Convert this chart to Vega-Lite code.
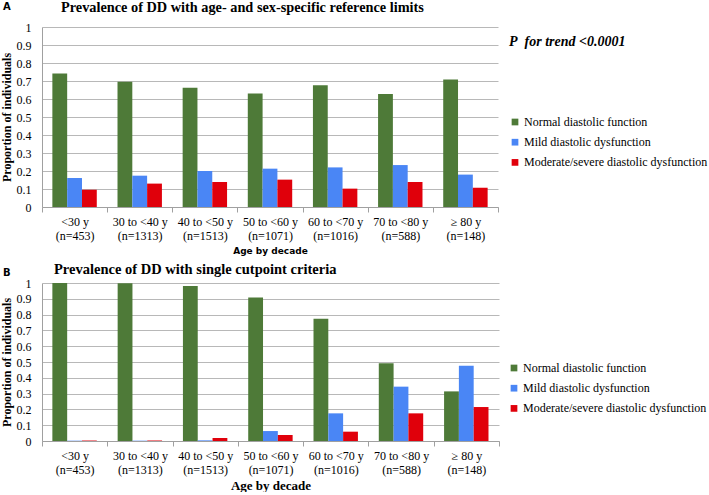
{
  "$schema": "https://vega.github.io/schema/vega-lite/v6.json",
  "padding": {"left": 0, "top": 0, "right": 0, "bottom": 0},
  "background": "white",
  "datasets": {
    "A": [
      {"age": "<30 y|(n=453)", "cat": "Normal diastolic function", "value": 0.741},
      {"age": "<30 y|(n=453)", "cat": "Mild diastolic dysfunction", "value": 0.161},
      {"age": "<30 y|(n=453)", "cat": "Moderate/severe diastolic dysfunction", "value": 0.096},
      {"age": "30 to <40 y|(n=1313)", "cat": "Normal diastolic function", "value": 0.696},
      {"age": "30 to <40 y|(n=1313)", "cat": "Mild diastolic dysfunction", "value": 0.174},
      {"age": "30 to <40 y|(n=1313)", "cat": "Moderate/severe diastolic dysfunction", "value": 0.13},
      {"age": "40 to <50 y|(n=1513)", "cat": "Normal diastolic function", "value": 0.663},
      {"age": "40 to <50 y|(n=1513)", "cat": "Mild diastolic dysfunction", "value": 0.2},
      {"age": "40 to <50 y|(n=1513)", "cat": "Moderate/severe diastolic dysfunction", "value": 0.139},
      {"age": "50 to <60 y|(n=1071)", "cat": "Normal diastolic function", "value": 0.63},
      {"age": "50 to <60 y|(n=1071)", "cat": "Mild diastolic dysfunction", "value": 0.213},
      {"age": "50 to <60 y|(n=1071)", "cat": "Moderate/severe diastolic dysfunction", "value": 0.152},
      {"age": "60 to <70 y|(n=1016)", "cat": "Normal diastolic function", "value": 0.676},
      {"age": "60 to <70 y|(n=1016)", "cat": "Mild diastolic dysfunction", "value": 0.22},
      {"age": "60 to <70 y|(n=1016)", "cat": "Moderate/severe diastolic dysfunction", "value": 0.102},
      {"age": "70 to <80 y|(n=588)", "cat": "Normal diastolic function", "value": 0.628},
      {"age": "70 to <80 y|(n=588)", "cat": "Mild diastolic dysfunction", "value": 0.233},
      {"age": "70 to <80 y|(n=588)", "cat": "Moderate/severe diastolic dysfunction", "value": 0.139},
      {"age": "≥ 80 y|(n=148)", "cat": "Normal diastolic function", "value": 0.709},
      {"age": "≥ 80 y|(n=148)", "cat": "Mild diastolic dysfunction", "value": 0.18},
      {"age": "≥ 80 y|(n=148)", "cat": "Moderate/severe diastolic dysfunction", "value": 0.107}
    ],
    "B": [
      {"age": "<30 y|(n=453)", "cat": "Normal diastolic function", "value": 1.0},
      {"age": "<30 y|(n=453)", "cat": "Mild diastolic dysfunction", "value": 0.002},
      {"age": "<30 y|(n=453)", "cat": "Moderate/severe diastolic dysfunction", "value": 0.003},
      {"age": "30 to <40 y|(n=1313)", "cat": "Normal diastolic function", "value": 0.998},
      {"age": "30 to <40 y|(n=1313)", "cat": "Mild diastolic dysfunction", "value": 0.002},
      {"age": "30 to <40 y|(n=1313)", "cat": "Moderate/severe diastolic dysfunction", "value": 0.003},
      {"age": "40 to <50 y|(n=1513)", "cat": "Normal diastolic function", "value": 0.981},
      {"age": "40 to <50 y|(n=1513)", "cat": "Mild diastolic dysfunction", "value": 0.004},
      {"age": "40 to <50 y|(n=1513)", "cat": "Moderate/severe diastolic dysfunction", "value": 0.019},
      {"age": "50 to <60 y|(n=1071)", "cat": "Normal diastolic function", "value": 0.909},
      {"age": "50 to <60 y|(n=1071)", "cat": "Mild diastolic dysfunction", "value": 0.063},
      {"age": "50 to <60 y|(n=1071)", "cat": "Moderate/severe diastolic dysfunction", "value": 0.038},
      {"age": "60 to <70 y|(n=1016)", "cat": "Normal diastolic function", "value": 0.774},
      {"age": "60 to <70 y|(n=1016)", "cat": "Mild diastolic dysfunction", "value": 0.175},
      {"age": "60 to <70 y|(n=1016)", "cat": "Moderate/severe diastolic dysfunction", "value": 0.059},
      {"age": "70 to <80 y|(n=588)", "cat": "Normal diastolic function", "value": 0.492},
      {"age": "70 to <80 y|(n=588)", "cat": "Mild diastolic dysfunction", "value": 0.344},
      {"age": "70 to <80 y|(n=588)", "cat": "Moderate/severe diastolic dysfunction", "value": 0.175},
      {"age": "≥ 80 y|(n=148)", "cat": "Normal diastolic function", "value": 0.314},
      {"age": "≥ 80 y|(n=148)", "cat": "Mild diastolic dysfunction", "value": 0.477},
      {"age": "≥ 80 y|(n=148)", "cat": "Moderate/severe diastolic dysfunction", "value": 0.215}
    ]
  },
  "config": {
    "view": {"stroke": null},
    "concat": {"spacing": 4}
  },
  "spacing": 6,
  "resolve": {"scale": {"color": "independent"}, "legend": {"color": "independent"}},
  "vconcat": [
    {
      "title": {"text": "A", "anchor": "start", "frame": "bounds", "font": "DejaVu Sans", "fontSize": 10, "fontWeight": "bold", "offset": -11, "color": "black", "dx": 3},
      "vconcat": [
        {
          "width": 456,
          "height": 180,
          "title": {"text": "Prevalence of DD with age- and sex-specific reference limits", "anchor": "start", "frame": "group", "dx": 19, "font": "Liberation Serif", "fontSize": 14.3, "fontWeight": "bold", "color": "black", "offset": 6},
          "data": {"name": "A"},
          "mark": {"type": "bar"},
          "encoding": {
            "x": {
              "field": "age", "type": "nominal",
              "sort": ["<30 y|(n=453)", "30 to <40 y|(n=1313)", "40 to <50 y|(n=1513)", "50 to <60 y|(n=1071)", "60 to <70 y|(n=1016)", "70 to <80 y|(n=588)", "≥ 80 y|(n=148)"],
              "scale": {"paddingInner": 0, "paddingOuter": 0},
              "axis": {"labelExpr": "split(datum.label, '|')", "labelAngle": 0, "labelFont": "Liberation Serif", "labelFontSize": 12, "labelColor": "black", "labelLineHeight": 14, "labelPadding": 4, "tickBand": "extent", "ticks": true, "tickColor": "#a0a0a0", "tickSize": 5, "domainColor": "#a0a0a0", "grid": false,
                "title": "Age by decade", "titleFont": "DejaVu Sans", "titleFontSize": 9, "titleFontWeight": "bold", "titleColor": "black", "titlePadding": 5}
            },
            "xOffset": {"field": "cat", "sort": ["Normal diastolic function", "Mild diastolic dysfunction", "Moderate/severe diastolic dysfunction"], "scale": {"paddingInner": 0, "paddingOuter": 0.7}},
            "y": {
              "field": "value", "type": "quantitative",
              "scale": {"domain": [0, 1]},
              "axis": {"values": [0, 0.1, 0.2, 0.3, 0.4, 0.5, 0.6, 0.7, 0.8, 0.9, 1], "format": "~g", "grid": true, "gridColor": "#b8b8b8", "domain": true, "domainColor": "#a0a0a0", "ticks": false, "labelFont": "Liberation Serif", "labelFontSize": 12, "labelColor": "black", "labelPadding": 11,
                "title": "Proportion of individuals", "titleFont": "Liberation Serif", "titleFontSize": 12, "titleFontWeight": "bold", "titleColor": "black", "titlePadding": 3}
            },
            "color": {
              "field": "cat", "type": "nominal",
              "scale": {"domain": ["Normal diastolic function", "Mild diastolic dysfunction", "Moderate/severe diastolic dysfunction"], "range": ["#4E7A38", "#4A86F5", "#E0000B"]},
              "legend": {"orient": "none", "legendX": 467, "legendY": 8, "padding": 0, "title": "P\u00a0 for trend <0.0001", "titleFont": "Liberation Serif", "titleFontStyle": "italic", "titleFontWeight": "bold", "titleFontSize": 14, "titleColor": "black", "titlePadding": 67, "titleLimit": 300, "labelFont": "Liberation Serif", "labelFontSize": 12, "labelColor": "black", "labelLimit": 300, "symbolType": "square", "symbolSize": 45, "symbolStrokeWidth": 0, "rowPadding": 8.2, "labelOffset": 3}
            }
          }
        }
      ]
    },
    {
      "title": {"text": "B", "anchor": "start", "frame": "bounds", "font": "DejaVu Sans", "fontSize": 10, "fontWeight": "bold", "offset": -16, "color": "black", "dx": 3},
      "vconcat": [
        {
          "width": 457,
          "height": 158,
          "title": {"text": "Prevalence of DD with single cutpoint criteria", "anchor": "start", "frame": "group", "dx": 12, "font": "Liberation Serif", "fontSize": 14.5, "fontWeight": "bold", "color": "black", "offset": 0},
          "data": {"name": "B"},
          "mark": {"type": "bar"},
          "encoding": {
            "x": {
              "field": "age", "type": "nominal",
              "sort": ["<30 y|(n=453)", "30 to <40 y|(n=1313)", "40 to <50 y|(n=1513)", "50 to <60 y|(n=1071)", "60 to <70 y|(n=1016)", "70 to <80 y|(n=588)", "≥ 80 y|(n=148)"],
              "scale": {"paddingInner": 0, "paddingOuter": 0},
              "axis": {"labelExpr": "split(datum.label, '|')", "labelAngle": 0, "labelFont": "Liberation Serif", "labelFontSize": 12, "labelColor": "black", "labelLineHeight": 14, "labelPadding": 4, "tickBand": "extent", "ticks": true, "tickColor": "#a0a0a0", "tickSize": 5, "domainColor": "#a0a0a0", "grid": false,
                "title": "Age by decade", "titleFont": "Liberation Serif", "titleFontSize": 13, "titleFontWeight": "bold", "titleColor": "black", "titlePadding": 4}
            },
            "xOffset": {"field": "cat", "sort": ["Normal diastolic function", "Mild diastolic dysfunction", "Moderate/severe diastolic dysfunction"], "scale": {"paddingInner": 0, "paddingOuter": 0.7}},
            "y": {
              "field": "value", "type": "quantitative",
              "scale": {"domain": [0, 1]},
              "axis": {"values": [0, 0.1, 0.2, 0.3, 0.4, 0.5, 0.6, 0.7, 0.8, 0.9, 1], "format": "~g", "grid": true, "gridColor": "#b8b8b8", "domain": true, "domainColor": "#a0a0a0", "ticks": false, "labelFont": "Liberation Serif", "labelFontSize": 12, "labelColor": "black", "labelPadding": 11,
                "title": "Proportion of individuals", "titleFont": "Liberation Serif", "titleFontSize": 12, "titleFontWeight": "bold", "titleColor": "black", "titlePadding": 3}
            },
            "color": {
              "field": "cat", "type": "nominal",
              "scale": {"domain": ["Normal diastolic function", "Mild diastolic dysfunction", "Moderate/severe diastolic dysfunction"], "range": ["#4E7A38", "#4A86F5", "#E0000B"]},
              "legend": {"orient": "none", "legendX": 466, "legendY": 79, "padding": 0, "title": null, "labelFont": "Liberation Serif", "labelFontSize": 12, "labelColor": "black", "labelLimit": 300, "symbolType": "square", "symbolSize": 45, "symbolStrokeWidth": 0, "rowPadding": 8.2, "labelOffset": 3}
            }
          }
        }
      ]
    }
  ]
}
